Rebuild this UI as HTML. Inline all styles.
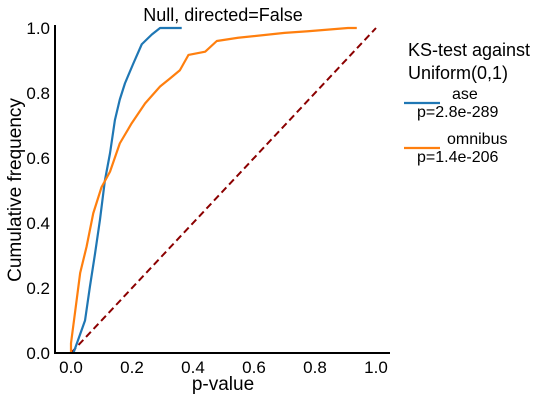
<!DOCTYPE html>
<html><head><meta charset="utf-8"><style>
body{margin:0;background:#fff;}
svg text{font-family:"Liberation Sans",Arial,sans-serif;fill:#000;}
</style></head><body>
<svg width="548" height="401" viewBox="0 0 548 401">
<g id="plot"></g>
<text x="223" y="21" font-size="18" text-anchor="middle">Null, directed=False</text>
<text x="223" y="390" font-size="19" text-anchor="middle">p-value</text>
<text transform="translate(21,190) rotate(-90)" font-size="19" text-anchor="middle">Cumulative frequency</text>
<g>
<text x="408" y="56" font-size="18">KS-test against</text>
<text x="408" y="79" font-size="18">Uniform(0,1)</text>
<line x1="404" y1="103" x2="440" y2="103" stroke="#1f77b4" stroke-width="2.2"/>
<text x="452" y="99" font-size="16">ase</text>
<text x="417" y="117" font-size="16">p=2.8e-289</text>
<line x1="404" y1="148" x2="440" y2="148" stroke="#ff7f0e" stroke-width="2.2"/>
<text x="447" y="144" font-size="16">omnibus</text>
<text x="417" y="162" font-size="16">p=1.4e-206</text>
</g>
</svg>
<script>
const xTicks=[0,0.2,0.4,0.6,0.8,1.0];
const xTickLabels=["0.0","0.2","0.4","0.6","0.8","1.0"];
const yTicks=[0,0.2,0.4,0.6,0.8,1.0];
const yTickLabels=["0.0","0.2","0.4","0.6","0.8","1.0"];
const asePvals=[0.008,0.046,0.062,0.079,0.095,0.111,0.128,0.144,0.16,0.177,0.204,0.232,0.265,0.292,0.363];
const aseCum=[0,0.10,0.204,0.307,0.41,0.53,0.615,0.717,0.78,0.83,0.89,0.95,0.98,1.0,1.0];
const omniPvals=[0.0,0.013,0.03,0.051,0.073,0.1,0.128,0.16,0.199,0.243,0.292,0.325,0.357,0.385,0.44,0.478,0.548,0.70,0.777,0.908,0.937];
const omniCum=[0.03,0.123,0.246,0.327,0.43,0.51,0.558,0.645,0.707,0.768,0.82,0.845,0.87,0.917,0.927,0.96,0.97,0.985,0.99,1.0,1.0];
const NS="http://www.w3.org/2000/svg";
const X=v=>71+v*305, Y=v=>353-v*325;
const g=document.getElementById('plot');
function mk(t,a){const e=document.createElementNS(NS,t);for(const k in a)e.setAttribute(k,a[k]);g.appendChild(e);return e;}
const diag=mk('line',{x1:X(0),y1:Y(0),x2:X(1),y2:Y(1),stroke:'#8b0000','stroke-width':2,'stroke-dasharray':'7,4'});


function curve(xs,ys,color,name){
  let d='M'+X(xs[0])+','+Y(0);
  for(let i=0;i<xs.length;i++){d+=' L'+X(xs[i])+','+Y(ys[i]);}
  const p=mk('path',{d:d,fill:'none',stroke:color,'stroke-width':2.2,'stroke-linejoin':'round'});
  
  
}
curve(asePvals,aseCum,'#1f77b4','ase-ecdf-line');
curve(omniPvals,omniCum,'#ff7f0e','omnibus-ecdf-line');
const ys=mk('line',{x1:55,y1:25,x2:55,y2:354,stroke:'#000','stroke-width':2});


const xs=mk('line',{x1:54,y1:353,x2:390,y2:353,stroke:'#000','stroke-width':2});


xTicks.forEach((v,i)=>{const t=mk('text',{x:X(v),y:373,'font-size':17,'text-anchor':'middle'});t.textContent=xTickLabels[i];

});
yTicks.forEach((v,i)=>{const t=mk('text',{x:50,y:Y(v)+6,'font-size':17,'text-anchor':'end'});t.textContent=yTickLabels[i];

});
</script>
</body></html>
